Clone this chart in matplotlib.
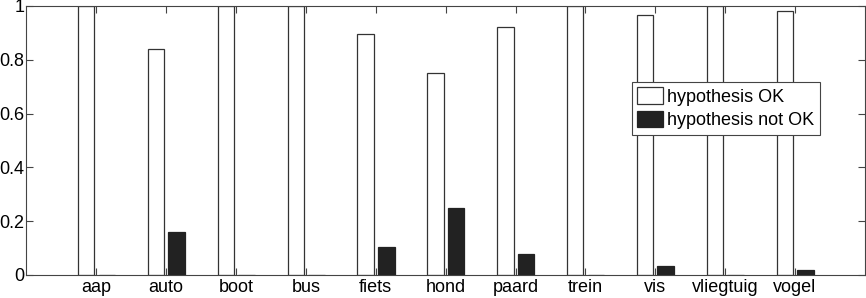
import numpy as np
import matplotlib
matplotlib.use("Agg")
from matplotlib import pyplot as plt

categories = ["aap", "auto", "boot", "bus", "fiets", "hond", "paard",
              "trein", "vis", "vliegtuig", "vogel"]
ok = [1.0, 0.84, 1.0, 1.0, 0.897, 0.75, 0.923, 1.0, 0.967, 1.0, 0.98]
not_ok = [0.0, 0.16, 0.0, 0.0, 0.103, 0.25, 0.077, 0.0, 0.033, 0.0, 0.02]

plt.rcParams['font.family'] = ['Liberation Sans', 'DejaVu Sans']
plt.rcParams['font.size'] = 13

fig = plt.figure(figsize=(8.66, 2.98), dpi=100)
ax = fig.add_axes([0.0306, 0.0772, 0.968, 0.9027])

x = np.arange(1, len(categories) + 1)
w = 0.236
ax.bar(x - 0.145, ok, w, facecolor='white', edgecolor='#333333',
       linewidth=0.9, label='hypothesis OK')
ax.bar(x + 0.15, not_ok, w, facecolor='#222222', edgecolor='#222222',
       linewidth=0.9, label='hypothesis not OK')

ax.set_xlim(0, 12)
ax.set_ylim(0, 1)
ax.set_xticks(x)
ax.set_xticklabels(categories)
ax.set_yticks([0, 0.2, 0.4, 0.6, 0.8, 1])
ax.set_yticklabels(['0', '0.2', '0.4', '0.6', '0.8', '1'])
ax.tick_params(direction='in', top=True, right=True, length=5,
               width=0.8, color='#444444', labelsize=13, pad=1.5)
ax.tick_params(axis='x', pad=3.0)
for s in ax.spines.values():
    s.set_color('#444444')
    s.set_linewidth(0.8)

leg = ax.legend(loc='upper right', bbox_to_anchor=(0.946, 0.7175),
                fancybox=False, framealpha=1, edgecolor='#444444',
                fontsize=13, handlelength=1.45, handleheight=1.0,
                handletextpad=0.2, borderpad=0.3, labelspacing=0.3,
                borderaxespad=0)
leg.get_frame().set_linewidth(0.8)

plt.savefig('out.png', dpi=100)
